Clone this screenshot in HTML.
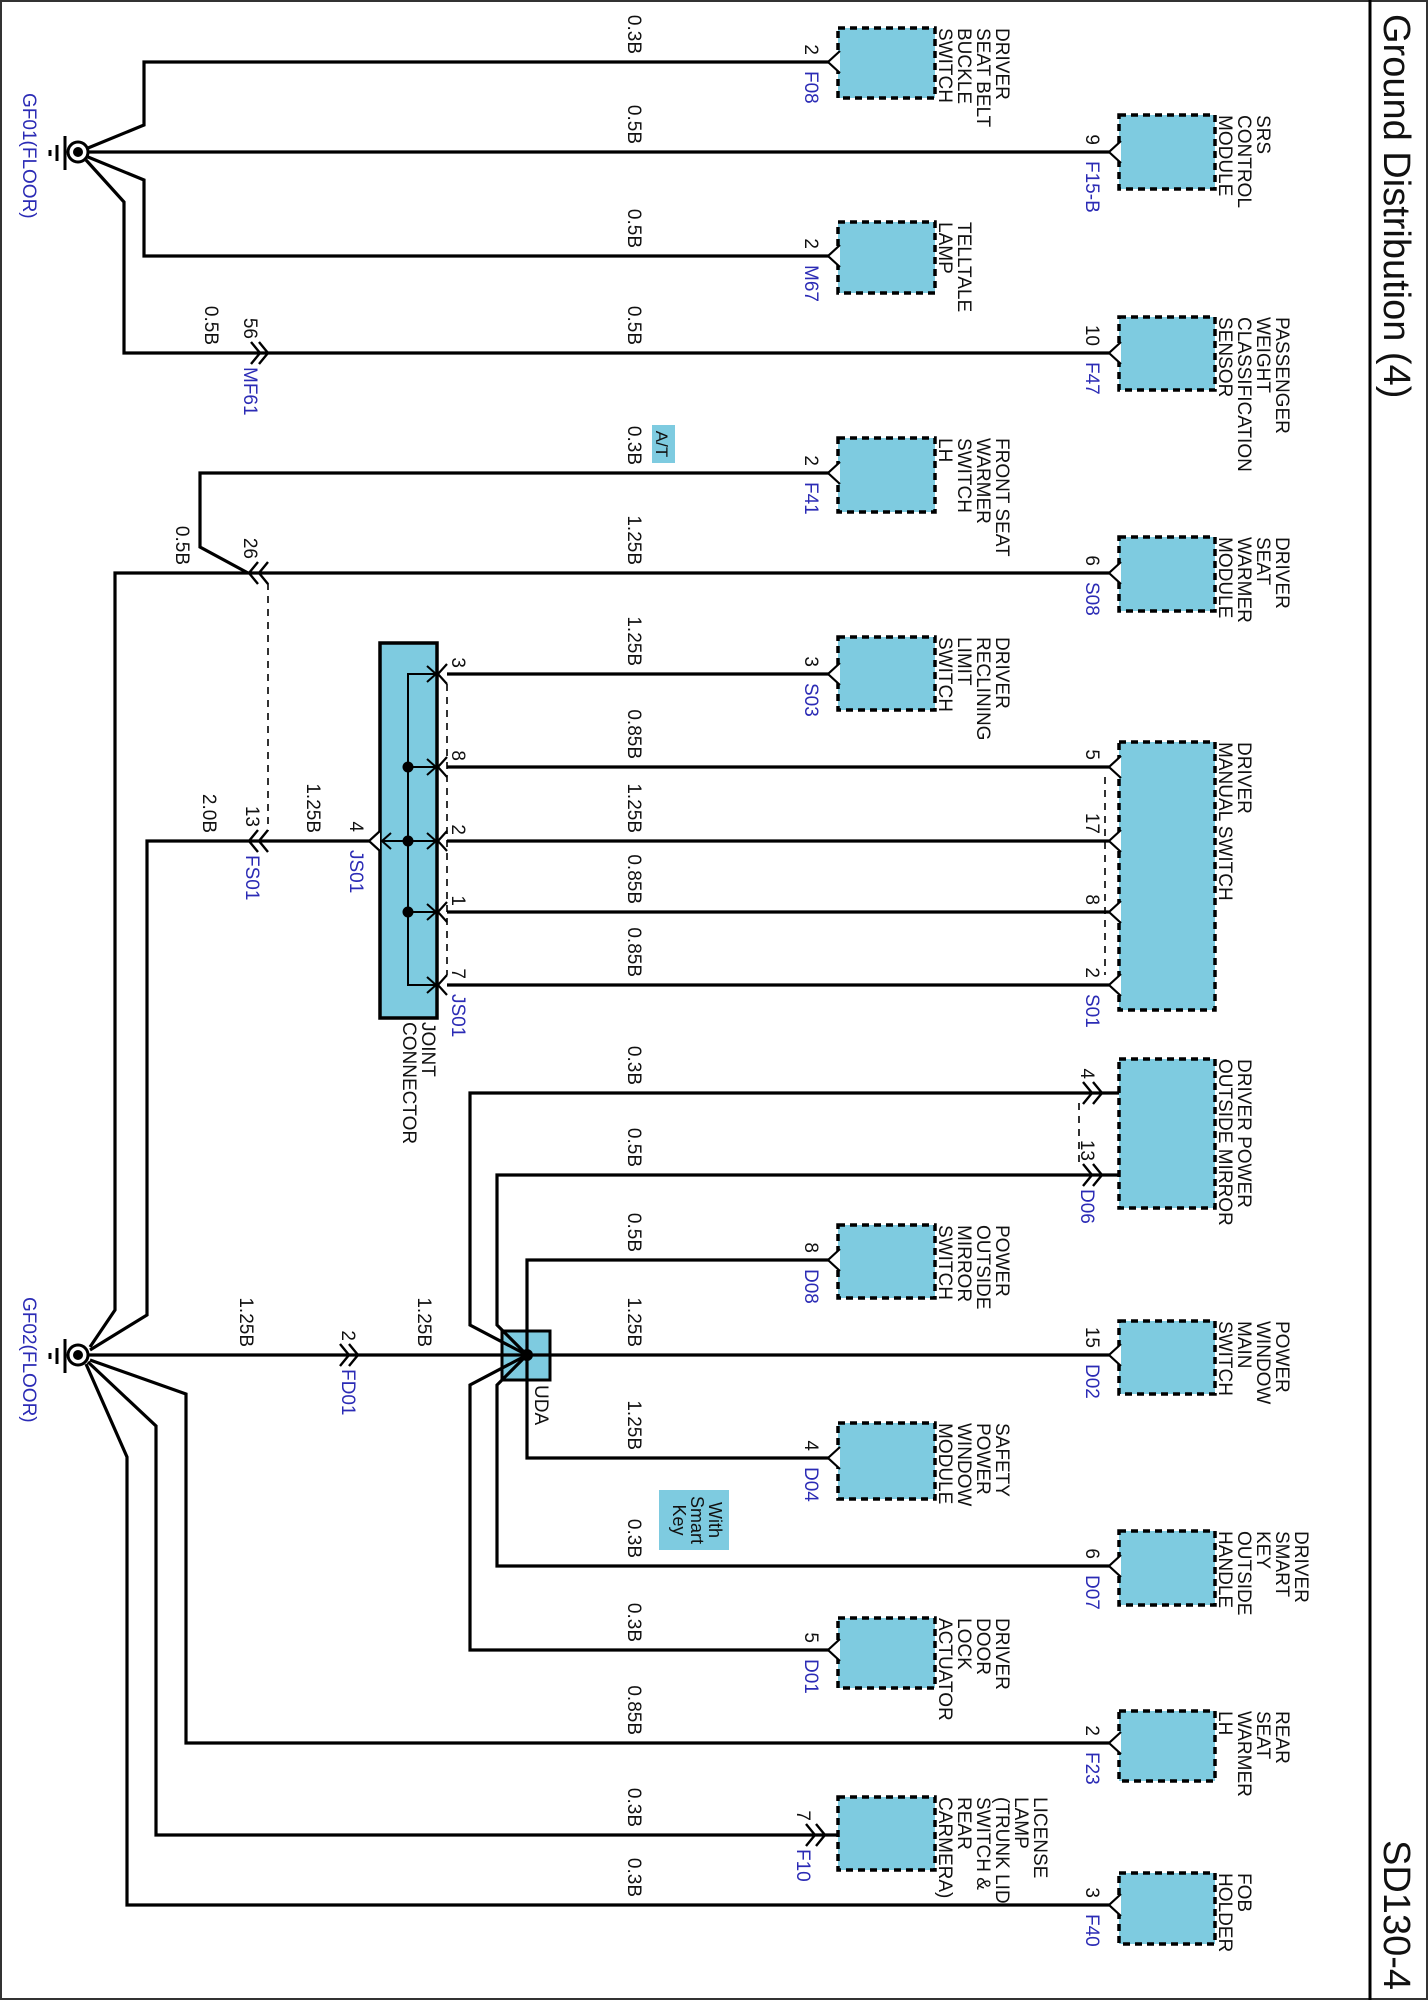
<!DOCTYPE html>
<html><head><meta charset="utf-8"><style>
html,body{margin:0;padding:0;background:#fff;}
svg{display:block;}
text{font-family:"Liberation Sans",Arial,sans-serif;font-size:19px;fill:#111;}
.b{fill:#2b2bb5;}
.w{fill:none;stroke:#000;stroke-width:3.2;stroke-linejoin:miter;}
.p{fill:#fff;stroke:#000;stroke-width:2.2;}
.c{fill:none;stroke:#000;stroke-width:2.4;}
.bx{fill:#7ecbe0;stroke:#000;stroke-width:3.5;stroke-dasharray:7,5;}
.d{fill:none;stroke:#000;stroke-width:1.6;stroke-dasharray:7,6;}
</style></head><body>
<svg width="1428" height="2000" viewBox="0 0 1428 2000" xmlns="http://www.w3.org/2000/svg">
<rect x="1" y="1" width="1426" height="1998" fill="#fff" stroke="#333" stroke-width="2"/>
<line x1="1370" y1="0" x2="1370" y2="2000" stroke="#000" stroke-width="3"/>
<text transform="translate(1384,14) rotate(90)" style="font-size:38px">Ground Distribution (4)</text>
<text transform="translate(1384,1990) rotate(90)" text-anchor="end" style="font-size:38px">SD130-4</text>

<rect class="bx" x="838" y="28" width="97" height="70"/>
<rect class="bx" x="838" y="222" width="97" height="71"/>
<rect class="bx" x="838" y="438" width="97" height="74"/>
<rect class="bx" x="838" y="637" width="97" height="73"/>
<rect class="bx" x="838" y="1225" width="97" height="73"/>
<rect class="bx" x="838" y="1423" width="97" height="76"/>
<rect class="bx" x="838" y="1618" width="97" height="70"/>
<rect class="bx" x="838" y="1797" width="97" height="73"/>
<rect class="bx" x="1119" y="115" width="96" height="74"/>
<rect class="bx" x="1119" y="317" width="96" height="73"/>
<rect class="bx" x="1119" y="537" width="96" height="74"/>
<rect class="bx" x="1119" y="742" width="96" height="268"/>
<rect class="bx" x="1119" y="1059" width="96" height="149"/>
<rect class="bx" x="1119" y="1321" width="96" height="73"/>
<rect class="bx" x="1119" y="1531" width="96" height="74"/>
<rect class="bx" x="1119" y="1711" width="96" height="70"/>
<rect class="bx" x="1119" y="1873" width="96" height="71"/>

<rect x="380" y="643" width="57" height="375" fill="#7ecbe0" stroke="#000" stroke-width="3.5"/>
<rect x="502" y="1331" width="48" height="49" fill="#7ecbe0" stroke="#000" stroke-width="3"/>

<path class="w" d="M88,148 L144,125 L144,62 L829,62"/>
<path class="w" d="M89,152 L1109,152"/>
<path class="w" d="M88,157 L144,180 L144,256 L829,256"/>
<path class="w" d="M86,160 L124,202 L124,353 L1109,353"/>
<path class="w" d="M829,473 L200,473 L200,547 L248,573"/>
<path class="w" d="M90,1347 L115,1310 L115,573 L1109,573"/>
<path class="w" d="M447,674 L829,674"/>
<path class="w" d="M447,767 L1109,767"/>
<path class="w" d="M447,841 L1109,841"/>
<path class="w" d="M447,912 L1109,912"/>
<path class="w" d="M447,985 L1109,985"/>
<path class="w" d="M90,1350 L147,1315 L147,841 L370,841"/>
<path d="M436,674 L408,674 L408,985 L436,985 M408,767 L436,767 M408,841 L436,841 M408,912 L436,912 M408,841 L382,841" fill="none" stroke="#000" stroke-width="2"/>
<path d="M427,666 L436,674 L427,682 M427,759 L436,767 L427,775 M427,833 L436,841 L427,849 M427,904 L436,912 L427,920 M427,977 L436,985 L427,993 M391,833 L382,841 L391,849" fill="none" stroke="#000" stroke-width="2"/>
<circle cx="408" cy="767" r="5.5"/><circle cx="408" cy="841" r="5.5"/><circle cx="408" cy="912" r="5.5"/>
<polyline class="p" points="380,831 369,841 380,851"/>
<polyline class="p" points="447,664 438,674 447,684"/>
<polyline class="p" points="447,757 438,767 447,777"/>
<polyline class="p" points="447,831 438,841 447,851"/>
<polyline class="p" points="447,902 438,912 447,922"/>
<polyline class="p" points="447,975 438,985 447,995"/>
<line class="d" x1="447" y1="684" x2="447" y2="975"/>
<line class="d" x1="1105" y1="777" x2="1105" y2="975"/>
<line class="d" x1="268" y1="583" x2="268" y2="831"/>

<path class="w" d="M527,1355 L470,1325 L470,1093 L1102,1093 L1119,1093"/>
<path class="w" d="M527,1355 L497,1325 L497,1175 L1119,1175"/>
<path class="w" d="M527,1355 L527,1260 L829,1260"/>
<path class="w" d="M87,1355 L1109,1355"/>
<path class="w" d="M527,1355 L527,1458 L829,1458"/>
<path class="w" d="M527,1355 L497,1385 L497,1566 L1109,1566"/>
<path class="w" d="M527,1355 L470,1385 L470,1650 L829,1650"/>
<circle cx="527" cy="1355" r="6"/>
<line class="d" x1="1079" y1="1103" x2="1079" y2="1165"/>
<path class="w" d="M90,1360 L186,1394 L186,1743 L1109,1743"/>
<path class="w" d="M88,1362 L156,1426 L156,1835 L838,1835"/>
<path class="w" d="M86,1364 L127,1457 L127,1905 L1109,1905"/>

<g class="p">
<polyline points="840,51 828,62 840,73"/>
<polyline points="840,245 828,256 840,267"/>
<polyline points="840,462 828,473 840,484"/>
<polyline points="840,663 828,674 840,685"/>
<polyline points="840,1249 828,1260 840,1271"/>
<polyline points="840,1447 828,1458 840,1469"/>
<polyline points="840,1639 828,1650 840,1661"/>
<polyline points="1121,141 1109,152 1121,163"/>
<polyline points="1121,342 1109,353 1121,364"/>
<polyline points="1121,562 1109,573 1121,584"/>
<polyline points="1121,756 1109,767 1121,778"/>
<polyline points="1121,830 1109,841 1121,852"/>
<polyline points="1121,901 1109,912 1121,923"/>
<polyline points="1121,974 1109,985 1121,996"/>
<polyline points="1121,1344 1109,1355 1121,1366"/>
<polyline points="1121,1555 1109,1566 1121,1577"/>
<polyline points="1121,1732 1109,1743 1121,1754"/>
<polyline points="1121,1894 1109,1905 1121,1916"/>
</g>
<g class="c">
<polyline points="251,342 260,353 251,364"/><polyline points="259,342 268,353 259,364"/>
<polyline points="258,562 249,573 258,584"/><polyline points="268,562 259,573 268,584"/>
<polyline points="258,830 249,841 258,852"/><polyline points="268,830 259,841 268,852"/>
<polyline points="340,1344 349,1355 340,1366"/><polyline points="349,1344 358,1355 349,1366"/>
<polyline points="1083,1082 1092,1093 1083,1104"/><polyline points="1093,1082 1102,1093 1093,1104"/>
<polyline points="1083,1164 1092,1175 1083,1186"/><polyline points="1093,1164 1102,1175 1093,1186"/>
<polyline points="806,1824 815,1835 806,1846"/><polyline points="816,1824 825,1835 816,1846"/>
</g>

<g>
<circle cx="78" cy="152" r="10" fill="#fff" stroke="#000" stroke-width="3"/><circle cx="78" cy="152" r="5"/>
<line x1="65" y1="136" x2="65" y2="170" stroke="#000" stroke-width="3"/>
<line x1="57" y1="145" x2="57" y2="161" stroke="#000" stroke-width="3"/>
<line x1="50" y1="150" x2="50" y2="156" stroke="#000" stroke-width="3"/>
</g>
<g>
<circle cx="78" cy="1355" r="10" fill="#fff" stroke="#000" stroke-width="3"/><circle cx="78" cy="1355" r="5"/>
<line x1="65" y1="1339" x2="65" y2="1373" stroke="#000" stroke-width="3"/>
<line x1="57" y1="1348" x2="57" y2="1364" stroke="#000" stroke-width="3"/>
<line x1="50" y1="1353" x2="50" y2="1359" stroke="#000" stroke-width="3"/>
</g>
<text class="b" transform="translate(23,93) rotate(90)">GF01(FLOOR)</text>
<text class="b" transform="translate(23,1297) rotate(90)">GF02(FLOOR)</text>

<rect x="652" y="425" width="23" height="38" fill="#7ecbe0"/>
<text transform="translate(656,444) rotate(90)" text-anchor="middle" style="font-size:17px">A/T</text>
<rect x="659" y="1490" width="70" height="60" fill="#7ecbe0"/>
<g transform="translate(0,1520)" text-anchor="middle">
<text transform="translate(709,0) rotate(90)" style="font-size:18px">With</text>
<text transform="translate(691,0) rotate(90)" style="font-size:18px">Smart</text>
<text transform="translate(673,0) rotate(90)" style="font-size:18px">Key</text>
</g>

<g text-anchor="end">
<text transform="translate(628,54) rotate(90)">0.3B</text>
<text transform="translate(628,144) rotate(90)">0.5B</text>
<text transform="translate(628,248) rotate(90)">0.5B</text>
<text transform="translate(628,345) rotate(90)">0.5B</text>
<text transform="translate(205,345) rotate(90)">0.5B</text>
<text transform="translate(628,465) rotate(90)">0.3B</text>
<text transform="translate(628,565) rotate(90)">1.25B</text>
<text transform="translate(176,565) rotate(90)">0.5B</text>
<text transform="translate(628,666) rotate(90)">1.25B</text>
<text transform="translate(628,759) rotate(90)">0.85B</text>
<text transform="translate(628,833) rotate(90)">1.25B</text>
<text transform="translate(628,904) rotate(90)">0.85B</text>
<text transform="translate(628,977) rotate(90)">0.85B</text>
<text transform="translate(307,833) rotate(90)">1.25B</text>
<text transform="translate(203,833) rotate(90)">2.0B</text>
<text transform="translate(628,1085) rotate(90)">0.3B</text>
<text transform="translate(628,1167) rotate(90)">0.5B</text>
<text transform="translate(628,1252) rotate(90)">0.5B</text>
<text transform="translate(628,1347) rotate(90)">1.25B</text>
<text transform="translate(240,1347) rotate(90)">1.25B</text>
<text transform="translate(418,1347) rotate(90)">1.25B</text>
<text transform="translate(628,1450) rotate(90)">1.25B</text>
<text transform="translate(628,1558) rotate(90)">0.3B</text>
<text transform="translate(628,1642) rotate(90)">0.3B</text>
<text transform="translate(628,1735) rotate(90)">0.85B</text>
<text transform="translate(628,1827) rotate(90)">0.3B</text>
<text transform="translate(628,1897) rotate(90)">0.3B</text>
</g>

<g transform="translate(805,62) rotate(90)"><text x="-7" text-anchor="end">2</text><text x="9" class="b">F08</text></g>
<g transform="translate(805,256) rotate(90)"><text x="-7" text-anchor="end">2</text><text x="9" class="b">M67</text></g>
<g transform="translate(805,473) rotate(90)"><text x="-7" text-anchor="end">2</text><text x="9" class="b">F41</text></g>
<g transform="translate(805,674) rotate(90)"><text x="-7" text-anchor="end">3</text><text x="9" class="b">S03</text></g>
<g transform="translate(805,1260) rotate(90)"><text x="-7" text-anchor="end">8</text><text x="9" class="b">D08</text></g>
<g transform="translate(805,1458) rotate(90)"><text x="-7" text-anchor="end">4</text><text x="9" class="b">D04</text></g>
<g transform="translate(805,1650) rotate(90)"><text x="-7" text-anchor="end">5</text><text x="9" class="b">D01</text></g>
<g transform="translate(797,1835) rotate(90)"><text x="-14" text-anchor="end">7</text><text x="14" class="b">F10</text></g>
<g transform="translate(1086,152) rotate(90)"><text x="-7" text-anchor="end">9</text><text x="9" class="b">F15-B</text></g>
<g transform="translate(1086,353) rotate(90)"><text x="-7" text-anchor="end">10</text><text x="9" class="b">F47</text></g>
<g transform="translate(1086,573) rotate(90)"><text x="-7" text-anchor="end">6</text><text x="9" class="b">S08</text></g>
<g transform="translate(1086,767) rotate(90)"><text x="-7" text-anchor="end">5</text></g>
<g transform="translate(1086,841) rotate(90)"><text x="-7" text-anchor="end">17</text></g>
<g transform="translate(1086,912) rotate(90)"><text x="-7" text-anchor="end">8</text></g>
<g transform="translate(1086,985) rotate(90)"><text x="-7" text-anchor="end">2</text><text x="9" class="b">S01</text></g>
<g transform="translate(1081,1093) rotate(90)"><text x="-14" text-anchor="end">4</text></g>
<g transform="translate(1081,1175) rotate(90)"><text x="-14" text-anchor="end">13</text><text x="14" class="b">D06</text></g>
<g transform="translate(1086,1355) rotate(90)"><text x="-7" text-anchor="end">15</text><text x="9" class="b">D02</text></g>
<g transform="translate(1086,1566) rotate(90)"><text x="-7" text-anchor="end">6</text><text x="9" class="b">D07</text></g>
<g transform="translate(1086,1743) rotate(90)"><text x="-7" text-anchor="end">2</text><text x="9" class="b">F23</text></g>
<g transform="translate(1086,1905) rotate(90)"><text x="-7" text-anchor="end">3</text><text x="9" class="b">F40</text></g>
<g transform="translate(244,353) rotate(90)"><text x="-14" text-anchor="end">56</text><text x="14" class="b">MF61</text></g>
<g transform="translate(244,573) rotate(90)"><text x="-14" text-anchor="end">26</text></g>
<g transform="translate(246,841) rotate(90)"><text x="-14" text-anchor="end">13</text><text x="14" class="b">FS01</text></g>
<g transform="translate(342,1355) rotate(90)"><text x="-14" text-anchor="end">2</text><text x="14" class="b">FD01</text></g>
<g transform="translate(350,841) rotate(90)"><text x="-9" text-anchor="end">4</text><text x="9" class="b">JS01</text></g>
<g transform="translate(452,674) rotate(90)"><text x="-6" text-anchor="end">3</text></g>
<g transform="translate(452,767) rotate(90)"><text x="-6" text-anchor="end">8</text></g>
<g transform="translate(452,841) rotate(90)"><text x="-6" text-anchor="end">2</text></g>
<g transform="translate(452,912) rotate(90)"><text x="-6" text-anchor="end">1</text></g>
<g transform="translate(452,985) rotate(90)"><text x="-6" text-anchor="end">7</text><text x="9" class="b">JS01</text></g>
<text transform="translate(535,1385) rotate(90)">UDA</text>
<g transform="translate(403,1022) rotate(90)"><text y="-19">JOINT</text><text y="0">CONNECTOR</text></g>

<g transform="translate(939,28) rotate(90)"><text y="-57">DRIVER</text><text y="-38">SEAT BELT</text><text y="-19">BUCKLE</text><text y="0">SWITCH</text></g>
<g transform="translate(939,222) rotate(90)"><text y="-19">TELLTALE</text><text y="0">LAMP</text></g>
<g transform="translate(939,438) rotate(90)"><text y="-57">FRONT SEAT</text><text y="-38">WARMER</text><text y="-19">SWITCH</text><text y="0">LH</text></g>
<g transform="translate(939,637) rotate(90)"><text y="-57">DRIVER</text><text y="-38">RECLINING</text><text y="-19">LIMIT</text><text y="0">SWITCH</text></g>
<g transform="translate(939,1225) rotate(90)"><text y="-57">POWER</text><text y="-38">OUTSIDE</text><text y="-19">MIRROR</text><text y="0">SWITCH</text></g>
<g transform="translate(939,1423) rotate(90)"><text y="-57">SAFETY</text><text y="-38">POWER</text><text y="-19">WINDOW</text><text y="0">MODULE</text></g>
<g transform="translate(939,1618) rotate(90)"><text y="-57">DRIVER</text><text y="-38">DOOR</text><text y="-19">LOCK</text><text y="0">ACTUATOR</text></g>
<g transform="translate(939,1797) rotate(90)"><text y="-95">LICENSE</text><text y="-76">LAMP</text><text y="-57">(TRUNK LID</text><text y="-38">SWITCH &amp;</text><text y="-19">REAR</text><text y="0">CARMERA)</text></g>
<g transform="translate(1219,115) rotate(90)"><text y="-38">SRS</text><text y="-19">CONTROL</text><text y="0">MODULE</text></g>
<g transform="translate(1219,317) rotate(90)"><text y="-57">PASSENGER</text><text y="-38">WEIGHT</text><text y="-19">CLASSIFICATION</text><text y="0">SENSOR</text></g>
<g transform="translate(1219,537) rotate(90)"><text y="-57">DRIVER</text><text y="-38">SEAT</text><text y="-19">WARMER</text><text y="0">MODULE</text></g>
<g transform="translate(1219,742) rotate(90)"><text y="-19">DRIVER</text><text y="0">MANUAL SWITCH</text></g>
<g transform="translate(1219,1059) rotate(90)"><text y="-19">DRIVER POWER</text><text y="0">OUTSIDE MIRROR</text></g>
<g transform="translate(1219,1321) rotate(90)"><text y="-57">POWER</text><text y="-38">WINDOW</text><text y="-19">MAIN</text><text y="0">SWITCH</text></g>
<g transform="translate(1219,1531) rotate(90)"><text y="-76">DRIVER</text><text y="-57">SMART</text><text y="-38">KEY</text><text y="-19">OUTSIDE</text><text y="0">HANDLE</text></g>
<g transform="translate(1219,1711) rotate(90)"><text y="-57">REAR</text><text y="-38">SEAT</text><text y="-19">WARMER</text><text y="0">LH</text></g>
<g transform="translate(1219,1873) rotate(90)"><text y="-19">FOB</text><text y="0">HOLDER</text></g>
</svg>
</body></html>
